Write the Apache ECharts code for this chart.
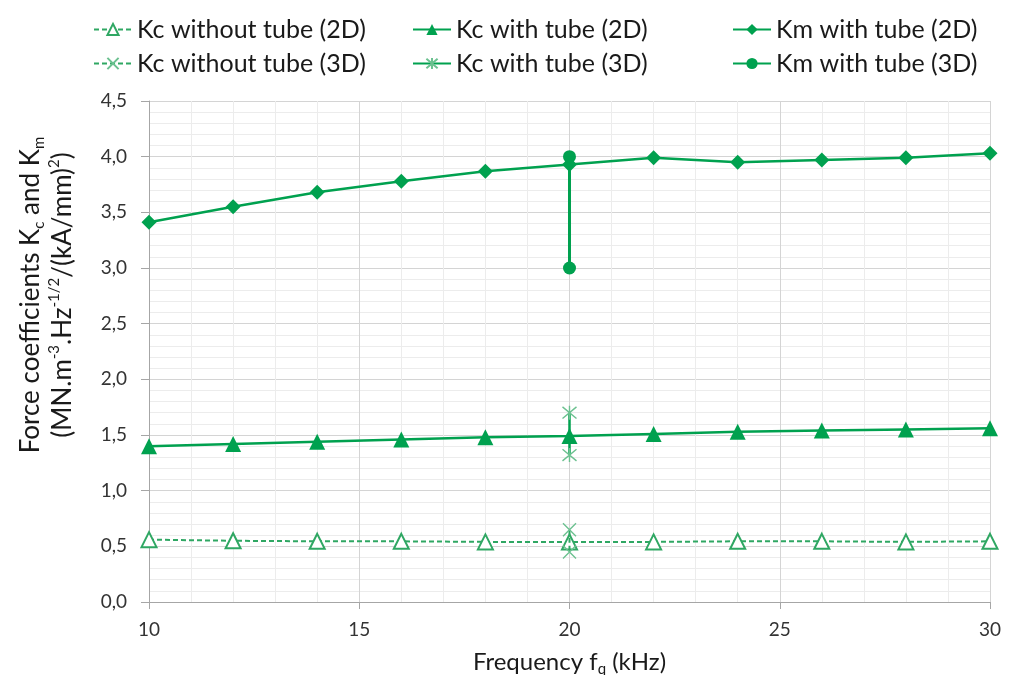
<!DOCTYPE html>
<html>
<head>
<meta charset="utf-8">
<script src="https://cdn.jsdelivr.net/npm/echarts@6/dist/echarts.min.js"></script>
<style>
html,body{margin:0;padding:0;background:#fff;}
#chart{width:1015px;height:675px;}
</style>
</head>
<body>
<div id="chart"></div>
<script>
// ---- data ----
const freq = [10, 12, 14, 16, 18, 20, 22, 24, 26, 28, 30];
const kcWithout2D = [0.56, 0.55, 0.545, 0.545, 0.54, 0.54, 0.54, 0.545, 0.545, 0.54, 0.545];
const kcWith2D = [1.40, 1.42, 1.44, 1.46, 1.48, 1.49, 1.51, 1.53, 1.54, 1.55, 1.56];
const kmWith2D = [3.41, 3.55, 3.68, 3.78, 3.87, 3.93, 3.99, 3.95, 3.97, 3.99, 4.03];
const freq3D = [20, 20];
const kcWithout3D = [0.65, 0.45];
const kcWith3D = [1.70, 1.32];
const kmWith3D = [4.00, 3.00];
const xTicks = [10, 15, 20, 25, 30];
const yTicks = [0, 0.5, 1, 1.5, 2, 2.5, 3, 3.5, 4, 4.5];

const names = ['Kc without tube (2D)', 'Kc with tube (2D)', 'Km with tube (2D)',
               'Kc without tube (3D)', 'Kc with tube (3D)', 'Km with tube (3D)'];

const pair = (xs, ys) => xs.map((x, i) => [x, ys[i]]);
const GREEN = '#00a14f';
const LIGHT = '#2fa763';
const FONT = 'Lato';

const xPath = 'path://M0,0L10,10M10,0L0,10';
const starPath = 'path://M0,0L10,10M10,0L0,10M5,-1L5,11';

const chart = echarts.init(document.getElementById('chart'));
const legendText = {fontFamily: FONT, fontSize: 25, color: '#1a1a1a', lineHeight: 25};
const mkLegend = (left, data) => ({
  orient: 'vertical', left: left, top: 12, itemWidth: 38, itemHeight: 14, itemGap: 9,
  textStyle: legendText, data: data, selectedMode: false
});

chart.setOption({
  animation: false,
  backgroundColor: '#fff',
  legend: [
    mkLegend(88, [names[0], names[3]]),
    mkLegend(407, [names[1], names[4]]),
    mkLegend(727, [names[2], names[5]])
  ],
  grid: {left: 149, right: 25, top: 101, bottom: 73, containLabel: false, outerBoundsMode: 'none'},
  xAxis: {
    type: 'value', min: xTicks[0], max: xTicks[xTicks.length - 1], interval: 5,
    axisLine: {show: true, lineStyle: {color: '#a6a6a6', width: 1}},
    axisTick: {show: true, length: 7, lineStyle: {color: '#a6a6a6'}},
    axisLabel: {fontFamily: FONT, fontSize: 19, color: '#333', margin: 18},
    splitLine: {show: true, lineStyle: {color: '#d4d4d4', width: 1}},
    minorTick: {show: false, splitNumber: 5},
    minorSplitLine: {show: true, lineStyle: {color: '#ececec', width: 1}},
    name: 'Frequency f{sub|q} (kHz)', nameLocation: 'middle', nameGap: 46,
    nameTextStyle: {fontFamily: FONT, fontSize: 24, color: '#1a1a1a',
      rich: {sub: {fontFamily: FONT, fontSize: 15, color: '#1a1a1a', verticalAlign: 'bottom', padding: [14, 0, 0, 0]}}}
  },
  yAxis: {
    type: 'value', min: yTicks[0], max: yTicks[yTicks.length - 1], interval: 0.5,
    axisLine: {show: true, lineStyle: {color: '#a6a6a6', width: 1}},
    axisTick: {show: true, length: 8, lineStyle: {color: '#a6a6a6'}},
    axisLabel: {fontFamily: FONT, fontSize: 19, color: '#333', margin: 22,
      formatter: v => v.toFixed(1).replace('.', ',')},
    splitLine: {show: true, lineStyle: {color: '#d4d4d4', width: 1}},
    minorTick: {show: false, splitNumber: 5},
    minorSplitLine: {show: true, lineStyle: {color: '#ececec', width: 1}}
  },
  graphic: [{
    type: 'text', x: 47, y: 295, rotation: Math.PI / 2,
    style: {
      text: 'Force coefficients K{sub|c} and K{sub|m}\n(MN.m{sup|-3}.Hz{sup|-1/2}/(kA/mm){sup|2})',
      align: 'center', verticalAlign: 'middle',
      fontFamily: FONT, fontSize: 26, fill: '#1a1a1a', lineHeight: 32,
      rich: {
        sub: {fontFamily: FONT, fontSize: 15, fill: '#1a1a1a', verticalAlign: 'bottom', lineHeight: 32, padding: [12, 0, 0, 0]},
        sup: {fontFamily: FONT, fontSize: 15, fill: '#1a1a1a', verticalAlign: 'top', lineHeight: 32, padding: [0, 0, 12, 0]}
      }
    }
  }],
  series: [
    {name: names[0], type: 'line', data: pair(freq, kcWithout2D), symbol: 'emptyTriangle', symbolSize: 15,
      lineStyle: {color: LIGHT, width: 2, type: [5, 3]}, itemStyle: {color: LIGHT, borderColor: LIGHT, borderWidth: 1.2}, z: 3},
    {name: names[3], type: 'line', data: pair(freq3D, kcWithout3D), symbol: xPath, symbolSize: 13,
      lineStyle: {color: LIGHT, width: 2, type: [5, 3]}, itemStyle: {color: 'none', borderColor: '#6cc190', borderWidth: 1.4}, z: 4},
    {name: names[1], type: 'line', data: pair(freq, kcWith2D), symbol: 'triangle', symbolSize: 16,
      lineStyle: {color: GREEN, width: 2.5}, itemStyle: {color: GREEN}, z: 5},
    {name: names[4], type: 'line', data: pair(freq3D, kcWith3D), symbol: starPath, symbolSize: 14,
      lineStyle: {color: GREEN, width: 2.5}, itemStyle: {color: 'none', borderColor: '#6cc190', borderWidth: 1.4}, z: 4},
    {name: names[2], type: 'line', data: pair(freq, kmWith2D), symbol: 'diamond', symbolSize: 15,
      lineStyle: {color: GREEN, width: 2.5}, itemStyle: {color: GREEN}, z: 5},
    {name: names[5], type: 'line', data: pair(freq3D, kmWith3D), symbol: 'circle', symbolSize: 13,
      lineStyle: {color: GREEN, width: 3}, itemStyle: {color: GREEN}, z: 6}
  ]
});
</script>
</body>
</html>
